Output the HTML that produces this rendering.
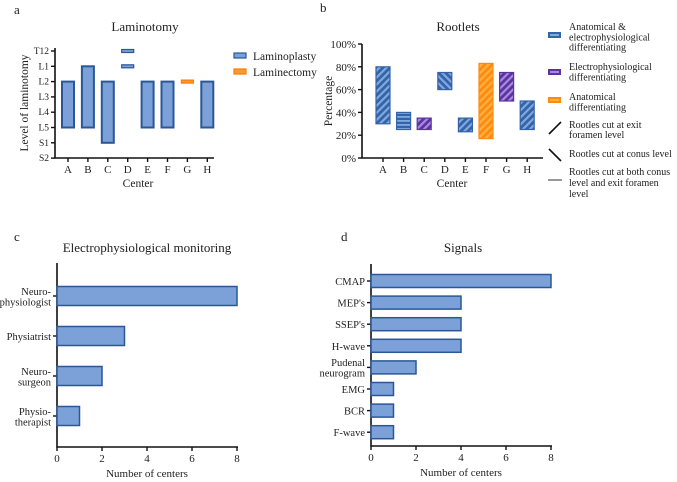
<!DOCTYPE html>
<html><head><meta charset="utf-8"><style>
body{margin:0;background:#fff}
svg{display:block;font-family:"Liberation Serif",serif;fill:#222}
</style></head><body>
<svg id="s" width="677" height="482" viewBox="0 0 677 482" font-size="11">
<defs>
<pattern id="pBlueF" width="5" height="5" patternUnits="userSpaceOnUse" patternTransform="rotate(45)"><rect width="5" height="5" fill="#3363a8"/><rect width="2.2" height="5" fill="#82a9de"/></pattern>
<pattern id="pBlueB" width="5" height="5" patternUnits="userSpaceOnUse" patternTransform="rotate(-45)"><rect width="5" height="5" fill="#3363a8"/><rect width="2.2" height="5" fill="#82a9de"/></pattern>
<pattern id="pBlueH" width="5" height="4" patternUnits="userSpaceOnUse"><rect width="5" height="4" fill="#3363a8"/><rect width="5" height="1.8" fill="#82a9de"/></pattern>
<pattern id="pPurF" width="5" height="5" patternUnits="userSpaceOnUse" patternTransform="rotate(45)"><rect width="5" height="5" fill="#5a33a0"/><rect width="2.2" height="5" fill="#a98ae0"/></pattern>
<pattern id="pOrF" width="5" height="5" patternUnits="userSpaceOnUse" patternTransform="rotate(45)"><rect width="5" height="5" fill="#ff8a10"/><rect width="2.2" height="5" fill="#ffb040"/></pattern>
</defs>
<g id="ga"></g>
<g id="gb"></g>
<g id="gc"></g>
<g id="gd"></g>
</svg>
<script>
// Panel a data
const aCenters=["A","B","C","D","E","F","G","H"];
const aLevels=["T12","L1","L2","L3","L4","L5","S1","S2"];
const aStart=[2,1,2,0,2,2,2,2];   // level index top
const aEnd=[5,5,6,0,5,5,2,5];     // level index bottom
const aExtraStart=[null,null,null,1,null,null,null,null];
const aType=["p","p","p","p","p","p","e","p"];
// Panel b data
const bCenters=["A","B","C","D","E","F","G","H"];
const bLow=[30,25,25,60,23,17,50,25];
const bHigh=[80,40,35,75,35,83,75,50];
const bFill=["pBlueF","pBlueH","pPurF","pBlueB","pBlueF","pOrF","pPurF","pBlueF"];
const bTicks=[0,20,40,60,80,100];
// Panel c data
const cCats=[["Neuro-","physiologist"],["Physiatrist"],["Neuro-","surgeon"],["Physio-","therapist"]];
const cVals=[8,3,2,1];
const xTicks=[0,2,4,6,8];
// Panel d data
const dCats=[["CMAP"],["MEP's"],["SSEP's"],["H-wave"],["Pudenal","neurogram"],["EMG"],["BCR"],["F-wave"]];
const dVals=[8,4,4,4,2,1,1,1];

const NS="http://www.w3.org/2000/svg";
function mk(p,tag,at,txt){const e=document.createElementNS(NS,tag);for(const k in at)e.setAttribute(k,at[k]);if(txt!=null)e.textContent=txt;p.appendChild(e);return e;}
function T(p,x,y,s,name,o){const e=mk(p,"text",Object.assign({x:x,y:y},o||{}),s);


return e;}
const AX={stroke:"#111","stroke-width":1.6,fill:"none"};

// ---------- Panel a
const ga=document.getElementById("ga");
T(ga,14,14,"a","panel-label-a",{"font-size":13});
T(ga,145,31,"Laminotomy","title-a",{"text-anchor":"middle","font-size":13});
const ay=i=>51+i*15.3, ax=i=>68+i*19.9;
mk(ga,"path",Object.assign({d:"M55 48V158H214"},AX));
aLevels.forEach((l,i)=>{mk(ga,"line",{x1:51,x2:55,y1:ay(i),y2:ay(i),stroke:"#111","stroke-width":1.4});
T(ga,49,ay(i)+3,l,"y-tick-a",{"text-anchor":"end","font-size":9.5});});
aCenters.forEach((c,i)=>{mk(ga,"line",{x1:ax(i),x2:ax(i),y1:158,y2:162,stroke:"#111","stroke-width":1.4});
T(ga,ax(i),173,c,"x-tick-a",{"text-anchor":"middle"});
const col=aType[i]=="e";
const seg=(s,e)=>{let y1=ay(s),y2=ay(e);if(s==e){y1-=1.5;y2+=1.5;}
const r=mk(ga,"rect",{x:ax(i)-6,y:y1,width:12,height:y2-y1,fill:col?"#ff9a30":"#7ba1d8",stroke:col?"#ff7a00":"#2b5797","stroke-width":s==e?1.2:2});

};
seg(aStart[i],aEnd[i]);
if(aExtraStart[i]!=null)seg(aExtraStart[i],aExtraStart[i]);});
T(ga,138,187,"Center","x-axis-title-a",{"text-anchor":"middle","font-size":11.5});
T(ga,28,103,"Level of laminotomy","y-axis-title-a",{"text-anchor":"middle",transform:"rotate(-90 28 103)","font-size":11.5});
[["Laminoplasty","#7ba1d8","#2b5797",56],["Laminectomy","#ff9a30","#ff7a00",72]].forEach(l=>{
const r=mk(ga,"rect",{x:234,y:l[3]-3,width:12,height:5,fill:l[1],stroke:l[2],"stroke-width":1.2});


T(ga,253,l[3]+4,l[0],"legend-entry-a",{"font-size":11.5});});

// ---------- Panel b
const gb=document.getElementById("gb");
T(gb,320,12,"b","panel-label-b",{"font-size":13});
T(gb,458,31,"Rootlets","title-b",{"text-anchor":"middle","font-size":13});
const by=v=>158-v*1.14, bx=i=>383+i*20.6;
mk(gb,"path",Object.assign({d:"M362 44V158H543"},AX));
bTicks.forEach(t=>{mk(gb,"line",{x1:358,x2:362,y1:by(t),y2:by(t),stroke:"#111","stroke-width":1.4});
T(gb,356,by(t)+4,t+"%","y-tick-b",{"text-anchor":"end"});});
bCenters.forEach((c,i)=>{mk(gb,"line",{x1:bx(i),x2:bx(i),y1:158,y2:162,stroke:"#111","stroke-width":1.4});
T(gb,bx(i),173,c,"x-tick-b",{"text-anchor":"middle"});
const st=bFill[i]=="pOrF"?"#ff8a10":bFill[i]=="pPurF"?"#5a33a0":"#3363a8";
const r=mk(gb,"rect",{x:bx(i)-7,y:by(bHigh[i]),width:14,height:by(bLow[i])-by(bHigh[i]),fill:"url(#"+bFill[i]+")",stroke:st,"stroke-width":1.2});

});
T(gb,452,187,"Center","x-axis-title-b",{"text-anchor":"middle","font-size":11.5});
T(gb,332,101,"Percentage","y-axis-title-b",{"text-anchor":"middle",transform:"rotate(-90 332 101)","font-size":11.5});
const leg=[[35,"#3363a8","#82a9de",["Anatomical &","electrophysiological","differentiating"],26],
[72,"#5a33a0","#a98ae0",["Electrophysiological","differentiating"],66],
[100,"#ff8a10","#ffb040",["Anatomical","differentiating"],96]];
leg.forEach(l=>{const r=mk(gb,"rect",{x:548,y:l[0]-3,width:13,height:6,fill:l[1]});


mk(gb,"rect",{x:550,y:l[0]-1,width:9,height:2,fill:l[2]});
l[3].forEach((s,k)=>T(gb,569,l[4]+4+k*10.3,s,"legend-entry-b",{"font-size":10}));});
mk(gb,"line",{x1:549,y1:134,x2:561,y2:122,stroke:"#111","stroke-width":1.6});
T(gb,569,128,"Rootles cut at exit","legend-entry-b",{"font-size":10});T(gb,569,138,"foramen level","legend-entry-b",{"font-size":10});
mk(gb,"line",{x1:549,y1:149,x2:561,y2:161,stroke:"#111","stroke-width":1.6});
T(gb,569,157,"Rootles cut at conus level","legend-entry-b",{"font-size":10});
mk(gb,"line",{x1:548,y1:180,x2:562,y2:180,stroke:"#333","stroke-width":1});
T(gb,569,175,"Rootles cut at both conus","legend-entry-b",{"font-size":10});T(gb,569,186,"level  and  exit  foramen","legend-entry-b",{"font-size":10});T(gb,569,197,"level","legend-entry-b",{"font-size":10});

// ---------- horizontal bar helper
function hbar(g,id,cats,vals,x0,x8,yTop,yBot,yc,h,title,tx){
const sx=v=>x0+v*(x8-x0)/8;
T(g,tx,252,title,"title-"+id,{"text-anchor":"middle","font-size":13});
mk(g,"path",Object.assign({d:`M${x0} ${yTop}V${yBot}H${x8+1}`},AX));
xTicks.forEach(t=>{mk(g,"line",{x1:sx(t),x2:sx(t),y1:yBot,y2:yBot+4,stroke:"#111","stroke-width":1.4});
T(g,sx(t),yBot+15,t,"x-tick-"+id,{"text-anchor":"middle"});});
cats.forEach((c,i)=>{const y=yc(i);
mk(g,"line",{x1:x0-4,x2:x0,y1:y,y2:y,stroke:"#111","stroke-width":1.4});
c.forEach((s,k)=>T(g,x0-6,y+4+(k-(c.length-1)/2)*10.5,s,"y-tick-"+id,{"text-anchor":"end","font-size":10.5}));
const r=mk(g,"rect",{x:x0,y:y-h/2,width:sx(vals[i])-x0,height:h,fill:"#7ba1d8",stroke:"#2b5797","stroke-width":1.5});

});
T(g,(x0+x8)/2,yBot+30,"Number of centers","x-axis-title-"+id,{"text-anchor":"middle","font-size":11});}
const gc=document.getElementById("gc");
T(gc,14,241,"c","panel-label-c",{"font-size":13});
hbar(gc,"c",cCats,cVals,57,237,263,447,i=>296+i*40,19,"Electrophysiological monitoring",147);
const gd=document.getElementById("gd");
T(gd,341,241,"d","panel-label-d",{"font-size":13});
hbar(gd,"d",dCats,dVals,371,551,264,446,i=>281+i*21.6,13,"Signals",463);
</script>
</body></html>
